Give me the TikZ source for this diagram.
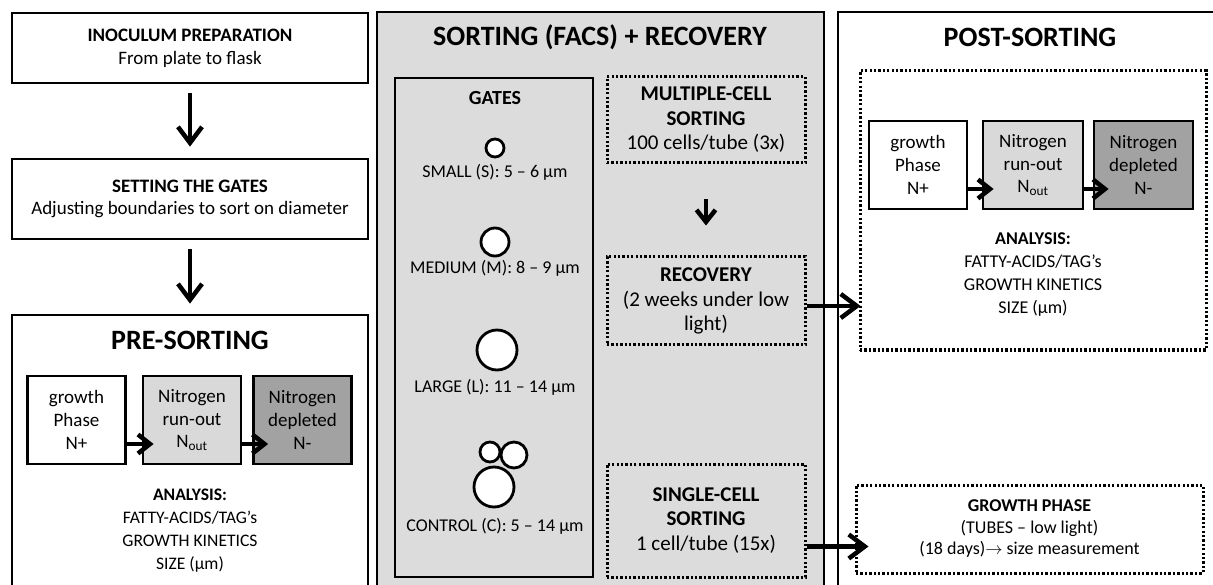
\documentclass[tikz,border=0pt]{standalone}
\usepackage{fontspec}
\setmainfont{Carlito}
\usepackage{tikz}
\usetikzlibrary{arrows.meta}
\definecolor{panelgrey}{RGB}{220,220,220}
\definecolor{runoutgrey}{RGB}{217,217,217}
\definecolor{depletedgrey}{RGB}{162,162,162}
\tikzset{
	txt/.style={align=center, font=\fontsize{19}{22.8}\selectfont},
	smalltxt/.style={align=center, font=\fontsize{17.6}{23}\selectfont},
	sorttxt/.style={align=center, font=\fontsize{21}{24.5}\selectfont},
	title/.style={font=\fontsize{28}{32}\selectfont\bfseries},
	stepbox/.style={txt, draw, line width=2.8pt, fill=white},
	phasebox/.style={stepbox, minimum width=98pt, minimum height=88pt, inner sep=0pt},
	dotbox/.style={draw, line width=3pt, dash pattern=on 2.3pt off 2.1pt},
	panel/.style={draw, line width=2.8pt},
	cell/.style={circle, draw, line width=2.8pt, fill=white, inner sep=0pt},
	bigarrow/.style={line width=4.5pt, -{Straight Barb[length=16pt,width=24pt]}},
	smallarrow/.style={line width=4.5pt, -{Straight Barb[length=12pt,width=19pt]}}
}
\begin{document}
\begin{tikzpicture}[x=1pt, y=-1pt]
	\useasboundingbox (0,0) rectangle (1213,585);
	\clip (0,0) rectangle (1213,585);
	
	\node[stepbox, minimum width=356pt, minimum height=70pt] (inoc) at (190,48) {\textbf{INOCULUM PREPARATION}\\From plate to flask};
	\node[stepbox, minimum width=356pt, minimum height=80pt] (setgates) at (190,199) {\textbf{SETTING THE GATES}\\Adjusting boundaries to sort on diameter};
	\node[panel, fill=white, minimum width=356pt, minimum height=290pt] (pre) at (190,460) {};
	\node[title] (pretitle) at (190,340) {PRE-SORTING};
	
	\draw[bigarrow] ([yshift=-9]inoc.south) -- ([yshift=11]setgates.north);
	\draw[bigarrow] ([yshift=-9]setgates.south) -- ([yshift=10]pre.north);
	
	\node[phasebox] (pgrow) at (76.5,420) {growth\\Phase\\N+};
	\node[phasebox, fill=runoutgrey] (prun) at (192,420) {Nitrogen\\run-out\\N\textsubscript{out}};
	\node[phasebox, fill=depletedgrey] (pdep) at (302.5,420) {Nitrogen\\depleted\\N-};
	\draw[smallarrow] ([yshift=-24]pgrow.east) -- ([xshift=12,yshift=-24]prun.west);
	\draw[smallarrow] ([yshift=-24]prun.east) -- ([xshift=16,yshift=-24]pdep.west);
	\node[smalltxt] (prean) at (190,531) {\textbf{ANALYSIS:}\\FATTY-ACIDS/TAG’s\\GROWTH KINETICS\\SIZE (µm)};
	
	\node[panel, fill=panelgrey, minimum width=447pt, minimum height=600pt] (sort) at (600.5,312) {};
	\node[title] (sorttitle) at (600,37) {SORTING (FACS) + RECOVERY};
	\node[panel, minimum width=198pt, minimum height=499pt] (gates) at (494,327.5) {};
	\node[txt, font=\fontsize{20}{24}\selectfont\bfseries] (gatestitle) at (495,98) {GATES};
	
	\node[cell, minimum size=18pt] (small) at (495,148) {};
	\node[smalltxt, font=\fontsize{18}{22}\selectfont] (smalllab) at (495,172) {SMALL (S): 5 – 6 µm};
	\node[cell, minimum size=28pt] (medium) at (495,242) {};
	\node[smalltxt, font=\fontsize{18}{22}\selectfont] (mediumlab) at (495,268) {MEDIUM (M): 8 – 9 µm};
	\node[cell, minimum size=40pt] (large) at (497,350) {};
	\node[smalltxt, font=\fontsize{18}{22}\selectfont] (largelab) at (495,387) {LARGE (L): 11 – 14 µm};
	\node[cell, minimum size=20pt] (c1) at (490,452) {};
	\node[cell, minimum size=26pt] (c2) at (514,455) {};
	\node[cell, minimum size=40pt] (c3) at (494,487) {};
	\node[smalltxt, font=\fontsize{18}{22}\selectfont] (controllab) at (495,526) {CONTROL (C): 5 – 14 µm};
	
	\node[dotbox, sorttxt, minimum width=198pt, minimum height=86pt] (multi) at (706,120) {\textbf{MULTIPLE-CELL}\\\textbf{SORTING}\\100 cells/tube (3x)};
	\node[dotbox, sorttxt, minimum width=198pt, minimum height=88pt] (rec) at (706,301) {\textbf{RECOVERY}\\(2 weeks under low\\light)};
	\node[dotbox, sorttxt, minimum width=198pt, minimum height=113pt] (single) at (706,520.5) {\textbf{SINGLE-CELL}\\\textbf{SORTING}\\1 cell/tube (15x)};
	\draw[smallarrow] ([yshift=-35]multi.south) -- ([yshift=30]rec.north);
	
	\node[panel, fill=white, minimum width=400pt, minimum height=600pt] (post) at (1038,312) {};
	\node[title] (posttitle) at (1030,37) {POST-SORTING};
	\node[dotbox, minimum width=346pt, minimum height=279pt] (postbox) at (1033,210.5) {};
	\node[phasebox] (qgrow) at (918,165) {growth\\Phase\\N+};
	\node[phasebox, minimum width=100pt, fill=runoutgrey] (qrun) at (1033,165) {Nitrogen\\run-out\\N\textsubscript{out}};
	\node[phasebox, minimum width=99pt, fill=depletedgrey] (qdep) at (1143.5,165) {Nitrogen\\depleted\\N-};
	\draw[smallarrow] ([yshift=-24]qgrow.east) -- ([xshift=12,yshift=-24]qrun.west);
	\draw[smallarrow] ([yshift=-24]qrun.east) -- ([xshift=16,yshift=-24]qdep.west);
	\node[smalltxt, font=\fontsize{18}{23}\selectfont] (postan) at (1033,274.5) {\textbf{ANALYSIS:}\\FATTY-ACIDS/TAG’s\\GROWTH KINETICS\\SIZE (µm)};
	
	\node[dotbox, smalltxt, font=\fontsize{18}{21.5}\selectfont, minimum width=347pt, minimum height=88pt] (growbox) at (1029.5,529) {\textbf{GROWTH PHASE}\\(TUBES – low light)\\(18 days)$\rightarrow$ size measurement};
	
	\draw[bigarrow] ([yshift=-5]rec.east) -- ([xshift=2,yshift=-5]rec.east -| postbox.west);
	\draw[bigarrow] ([yshift=-26]single.east) -- ([xshift=14,yshift=-26]single.east -| growbox.west);
\end{tikzpicture}
\end{document}
